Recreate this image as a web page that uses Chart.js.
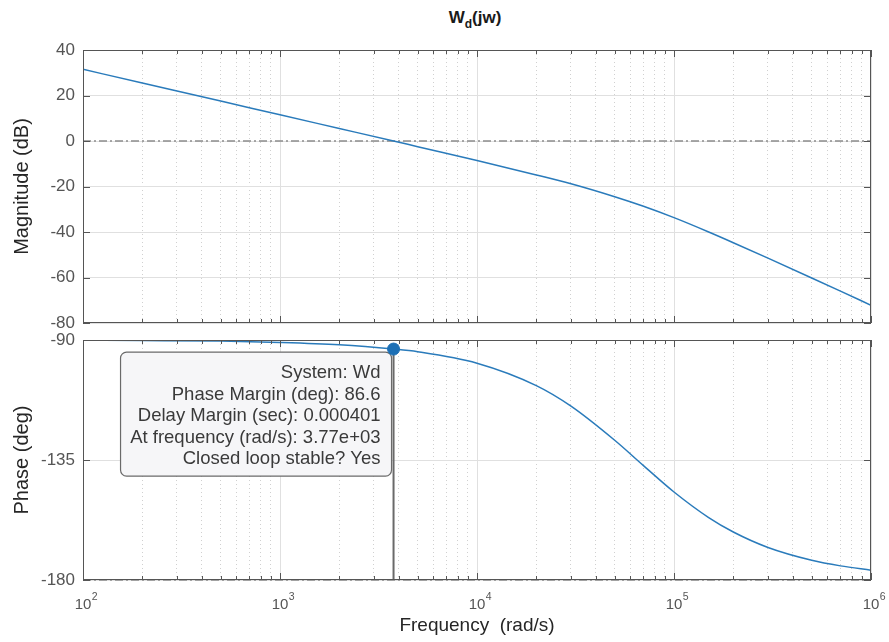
<!DOCTYPE html>
<html>
<head>
<meta charset="utf-8">
<title>Wd(jw) Bode</title>
<script src="https://cdn.jsdelivr.net/npm/chart.js@4.4.1/dist/chart.umd.min.js"></script>
<style>
    html, body { margin: 0; padding: 0; background: #fff; }
    #figure { position: relative; width: 889px; height: 642px; background: #fff; overflow: hidden; }
    #figure canvas { position: absolute; left: 0; }
    #magCanvas { top: 0; }
    #phaseCanvas { top: 300px; }
    #plotTitle {
        position: absolute; left: 75px; width: 800px; top: 8px;
        text-align: center; font: bold 17px 'Liberation Sans', Arial, sans-serif; color: #1a1a1a;
    }
    #plotTitle sub { font-size: 12px; vertical-align: -5px; line-height: 0; }
</style>
</head>
<body>
<div id="figure">
    <div id="plotTitle">W<sub>d</sub>(jw)</div>
    <canvas id="magCanvas" width="889" height="340"></canvas>
    <canvas id="phaseCanvas" width="889" height="342"></canvas>
</div>
<script>
// Frequency samples (rad/s)
const freqRad = [100, 200, 500, 1000, 2000, 3770, 5000, 10000, 20000, 30000, 50000, 70000,
    100000, 150000, 200000, 300000, 500000, 700000, 1000000];
// Magnitude (dB) at those frequencies
const magnitudeDb = [31.5, 25.5, 17.6, 11.5, 5.5, 0.0, -2.5, -8.6, -14.9, -18.8, -24.5, -28.7,
    -33.7, -40.0, -44.7, -51.5, -60.2, -66.0, -72.2];
// Phase (deg) at those frequencies
const phaseDeg = [-90.1, -90.2, -90.4, -90.9, -91.8, -93.4, -94.4, -98.7, -107.1, -114.8, -127.6, -137.1,
    -147.0, -156.6, -162.0, -167.8, -172.6, -174.7, -176.3];

// Axis ticks: decades shown as 10 with a raised exponent
const decadeTicks = [100, 1000, 10000, 100000, 1000000];
const decadeBase = '10';
const decadeExponents = ['2', '3', '4', '5', '6'];
const magTicks = [-80, -60, -40, -20, 0, 20, 40];
const phaseTicks = [-180, -135, -90];

// Stability margin annotation
const marginFreq = 3770;
const marginPhase = -93.4;
const refMagDb = 0;
const refPhaseDeg = -180;
const datatipLines = [
    'System: Wd',
    'Phase Margin (deg): 86.6',
    'Delay Margin (sec): 0.000401',
    'At frequency (rad/s): 3.77e+03',
    'Closed loop stable? Yes'
];

const FONT = "'Liberation Sans', Arial, sans-serif";
const lineBlue = '#2a7bbb';
const gridColor = '#e0e0e0';
const minorGridColor = '#d0d0d0';
const tickColor = '#555555';
const titleColor = '#262626';
const frameColor = '#555555';
const refLineColor = '#8c8c8c';
const xTickSize = 15;
const xTickPadding = 16;

Chart.defaults.font.family = FONT;
Chart.defaults.animation = false;

function isDecade(v) {
    return decadeTicks.includes(v);
}

// 1..9 x each decade, inside the axis range
function logTicks(scale) {
    const ticks = [];
    decadeTicks.forEach(d => {
        for (let k = 1; k <= 9; k++) {
            const v = k * d;
            if (v >= scale.min && v <= scale.max) ticks.push({ value: v });
        }
    });
    scale.ticks = ticks;
}

function makeScales(yTicks, yTitle, showX) {
    return {
        x: {
            type: 'logarithmic',
            position: 'bottom',
            min: decadeTicks[0],
            max: decadeTicks[decadeTicks.length - 1],
            afterBuildTicks: logTicks,
            afterFit: s => { s.height = showX ? 62 : 0; s.paddingLeft = 0; s.paddingRight = 0; },
            border: { display: false },
            grid: {
                drawTicks: false,
                color: c => (c.tick && isDecade(c.tick.value)) ? gridColor : 'rgba(0,0,0,0)'
            },
            ticks: {
                display: showX,
                autoSkip: false,
                maxRotation: 0,
                minRotation: 0,
                padding: xTickPadding,
                color: tickColor,
                font: { size: xTickSize },
                callback: v => isDecade(v) ? decadeBase : ''
            },
            title: {
                display: showX,
                text: 'Frequency  (rad/s)',
                color: titleColor,
                font: { size: 19 },
                padding: { top: 0, bottom: 5 }
            }
        },
        xMinor: {
            type: 'logarithmic',
            position: 'top',
            min: decadeTicks[0],
            max: decadeTicks[decadeTicks.length - 1],
            afterBuildTicks: logTicks,
            afterFit: s => { s.height = 0; s.paddingLeft = 0; s.paddingRight = 0; },
            border: { display: false, dash: [1, 3] },
            grid: {
                drawTicks: false,
                color: c => (c.tick && !isDecade(c.tick.value)) ? minorGridColor : 'rgba(0,0,0,0)'
            },
            ticks: { display: false }
        },
        y: {
            position: 'left',
            min: yTicks[0],
            max: yTicks[yTicks.length - 1],
            afterBuildTicks: s => { s.ticks = yTicks.map(v => ({ value: v })); },
            afterFit: s => { s.width = 83; s.paddingTop = 0; s.paddingBottom = 0; },
            border: { display: false },
            grid: { drawTicks: false, color: gridColor },
            ticks: { padding: 8, color: tickColor, font: { size: 17 } },
            title: {
                display: true,
                text: yTitle,
                color: titleColor,
                font: { size: 20 },
                padding: { top: 10, bottom: 0 }
            }
        }
    };
}

/**
 * Box round the axes plus the small inward tick marks
 */
const framePlugin = {
    id: 'frame',
    afterDatasetsDraw(chart) {
        const { ctx, chartArea: a, scales } = chart;
        ctx.save();
        ctx.strokeStyle = frameColor;
        ctx.lineWidth = 1;
        ctx.beginPath();
        scales.x.ticks.forEach(t => {
            const px = Math.round(scales.x.getPixelForValue(t.value)) + 0.5;
            const len = isDecade(t.value) ? 7 : 4;
            ctx.moveTo(px, a.top); ctx.lineTo(px, a.top + len);
            ctx.moveTo(px, a.bottom); ctx.lineTo(px, a.bottom - len);
        });
        scales.y.ticks.forEach(t => {
            const py = Math.round(scales.y.getPixelForValue(t.value)) + 0.5;
            ctx.moveTo(a.left, py); ctx.lineTo(a.left + 7, py);
            ctx.moveTo(a.right, py); ctx.lineTo(a.right - 7, py);
        });
        ctx.stroke();
        ctx.strokeRect(Math.round(a.left) + 0.5, Math.round(a.top) + 0.5,
            Math.round(a.right - a.left) - 1, Math.round(a.bottom - a.top) - 1);
        ctx.restore();
    }
};

/**
 * Raised exponent after each "10" decade label
 */
const exponentPlugin = {
    id: 'exponents',
    afterDraw(chart) {
        const { ctx, scales } = chart;
        const sx = scales.x;
        ctx.save();
        ctx.font = xTickSize + 'px ' + FONT;
        const baseW = ctx.measureText(decadeBase).width;
        const labelMid = sx.top + xTickPadding + xTickSize * 1.2 / 2;
        ctx.font = '10.5px ' + FONT;
        ctx.fillStyle = tickColor;
        ctx.textAlign = 'left';
        ctx.textBaseline = 'middle';
        decadeTicks.forEach((d, i) => {
            const px = sx.getPixelForValue(d);
            ctx.fillText(decadeExponents[i], px + baseW / 2 + 0.5, labelMid - 8);
        });
        ctx.restore();
    }
};

/**
 * Stability margin datatip, hung off the margin point
 */
const datatipPlugin = {
    id: 'datatip',
    beforeDatasetsDraw(chart) {
        const { ctx, scales } = chart;
        const px = scales.x.getPixelForValue(marginFreq);
        const py = scales.y.getPixelForValue(marginPhase);
        const w = 271, h = 124, r = 6;
        const right = px - 2, top = py + 3, left = right - w, bottom = top + h;

        ctx.save();
        ctx.beginPath();
        ctx.moveTo(left + r, top);
        ctx.lineTo(right - r, top);
        ctx.arcTo(right, top, right, top + r, r);
        ctx.lineTo(right, bottom - r);
        ctx.arcTo(right, bottom, right - r, bottom, r);
        ctx.lineTo(left + r, bottom);
        ctx.arcTo(left, bottom, left, bottom - r, r);
        ctx.lineTo(left, top + r);
        ctx.arcTo(left, top, left + r, top, r);
        ctx.closePath();
        ctx.fillStyle = '#f6f6f8';
        ctx.fill();
        ctx.strokeStyle = '#6a6a6a';
        ctx.lineWidth = 1.2;
        ctx.stroke();

        ctx.fillStyle = '#3a3a3a';
        ctx.font = '18.5px ' + FONT;
        ctx.textAlign = 'right';
        ctx.textBaseline = 'middle';
        datatipLines.forEach((line, i) => {
            ctx.fillText(line, right - 11, top + 21 + i * 21.5);
        });
        ctx.restore();
    }
};

function points(ys) {
    return freqRad.map((f, i) => ({ x: f, y: ys[i] }));
}

const xRange = [decadeTicks[0], decadeTicks[decadeTicks.length - 1]];

const curveStyle = {
    borderColor: lineBlue,
    borderWidth: 1.5,
    pointRadius: 0,
    cubicInterpolationMode: 'monotone',
    fill: false
};

const refStyle = {
    borderColor: refLineColor,
    borderWidth: 1.5,
    borderDash: [8, 3, 2, 3],
    pointRadius: 0,
    fill: false
};

// Magnitude plot
new Chart(document.getElementById('magCanvas'), {
    type: 'line',
    data: {
        datasets: [
            Object.assign({ label: 'Magnitude', data: points(magnitudeDb) }, curveStyle),
            Object.assign({ label: '0 dB', data: xRange.map(x => ({ x, y: refMagDb })) }, refStyle)
        ]
    },
    options: {
        responsive: false,
        layout: { padding: { top: 50, right: 18, bottom: 17, left: 0 } },
        plugins: { legend: { display: false }, tooltip: { enabled: false } },
        scales: makeScales(magTicks, 'Magnitude (dB)', false)
    },
    plugins: [framePlugin]
});

// Phase plot
new Chart(document.getElementById('phaseCanvas'), {
    type: 'line',
    data: {
        datasets: [
            {
                label: 'Phase margin point',
                data: [{ x: marginFreq, y: marginPhase }],
                showLine: false,
                pointRadius: 6,
                pointBackgroundColor: '#1c6fb5',
                pointBorderColor: '#1c6fb5',
                pointBorderWidth: 1
            },
            {
                label: 'Margin line',
                data: [{ x: marginFreq, y: marginPhase }, { x: marginFreq, y: refPhaseDeg }],
                borderColor: '#6a6a6a',
                borderWidth: 2,
                pointRadius: 0,
                fill: false
            },
            Object.assign({ label: 'Phase', data: points(phaseDeg) }, curveStyle),
            Object.assign({ label: '-180 deg', data: xRange.map(x => ({ x, y: refPhaseDeg })), clip: 4 }, refStyle)
        ]
    },
    options: {
        responsive: false,
        layout: { padding: { top: 40, right: 18, bottom: 0, left: 0 } },
        plugins: { legend: { display: false }, tooltip: { enabled: false } },
        scales: makeScales(phaseTicks, 'Phase (deg)', true)
    },
    plugins: [framePlugin, datatipPlugin, exponentPlugin]
});
</script>
</body>
</html>
